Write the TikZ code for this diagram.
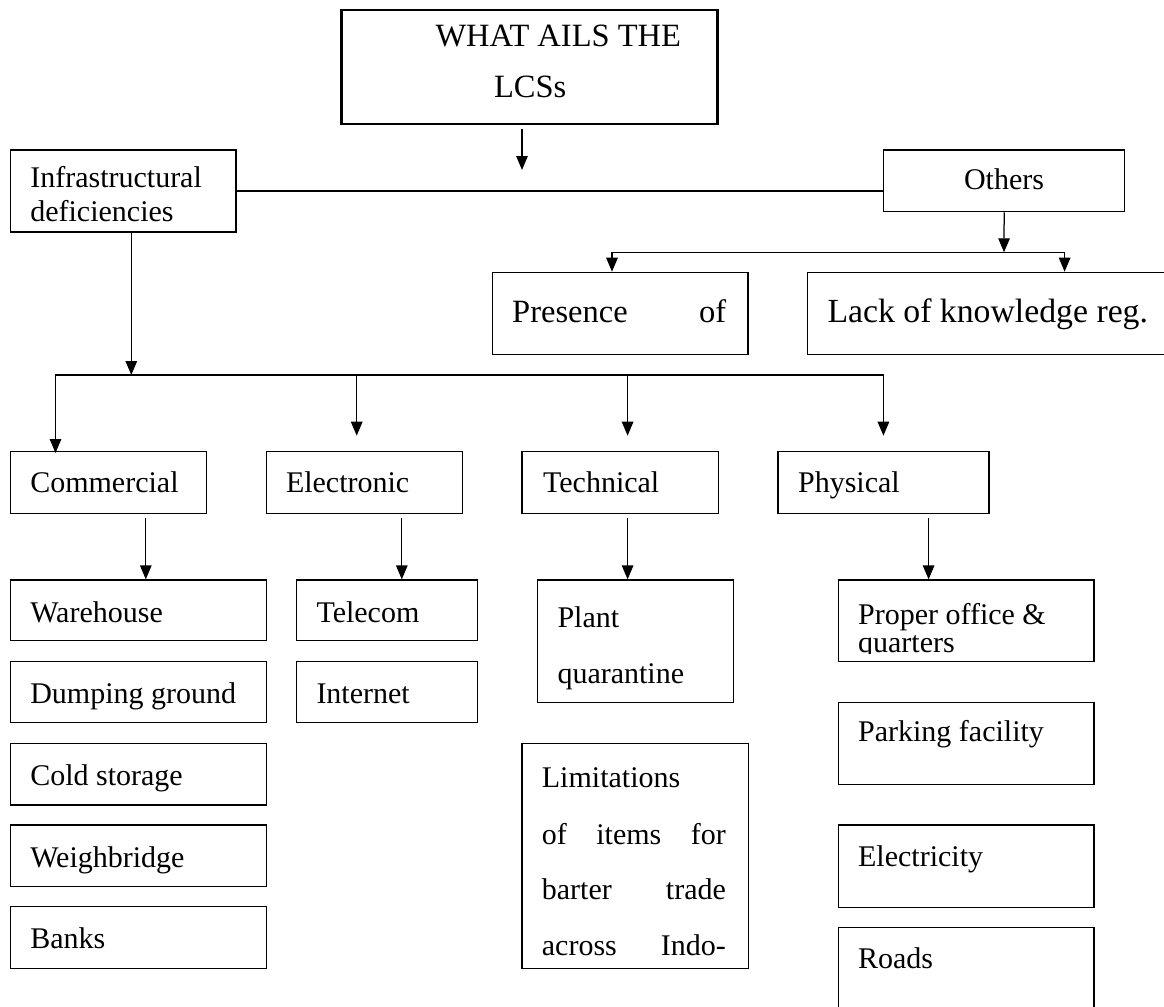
\documentclass[tikz,border=0pt]{standalone}
\usepackage{fontspec}
\setmainfont{Liberation Serif}
\usetikzlibrary{arrows.meta,fit}
\tikzset{
  box/.style={draw, line width=0.5pt, inner sep=0pt},
  titlebox/.style={draw, line width=1pt, inner sep=0pt},
  txt/.style={anchor=base west, inner sep=0pt, font=\fontsize{12}{14}\selectfont},
  ttl/.style={anchor=base west, inner sep=0pt, font=\fontsize{13}{15}\selectfont},
  arr/.style={-{Triangle[width=4.6pt,length=5.6pt]}, line width=0.5pt},
  ln/.style={line width=0.5pt}
}

\begin{document}
\begin{tikzpicture}[x=0.4pt, y=-0.4pt]
\useasboundingbox (0,0) rectangle (1164,1006);

% top
\node[titlebox, fit={(341.7,10) (717.7,124)}] (title) {};
\node[ttl] (titleA) at (435,47) {WHAT AILS THE};
\node[ttl] (titleB) at (493.6,98) {LCSs};
\coordinate (tStart) at (522,129);
\coordinate (tEnd) at (522,170);
\draw[arr] (tStart) -- (tEnd);

\node[box, fit={(10.3,150) (236.1,232)}] (infra) {};
\node[txt] (infraA) at (29.8,187) {Infrastructural};
\node[txt] (infraB) at (29.8,221.7) {deficiencies};

\node[box, fit={(883.6,150) (1124.7,211.7)}] (others) {};
\node[txt, anchor=base] (othersT) at (1004,189) {Others};
\draw[ln] (infra.east) -- (infra.east -| others.west);

% others branch
\node[box, fit={(492.3,272.7) (748,354.3)}] (pres) {};
\node[txt, font=\fontsize{13}{15}\selectfont] (presT) at (511.7,322) {\hbox to 85.6pt{Presence\hfill of}};
\node[box, fit={(807.7,272.7) (1190,354.3)}] (lack) {};
\node[txt, font=\fontsize{13.5}{16}\selectfont] (lackT) at (827,322) {Lack of knowledge reg.};

\coordinate (oSplit) at (1004,252.3);
\coordinate (presTip) at (612,271.7);
\coordinate (lackTip) at (1064.6,271.7);
\draw[arr] (others.south) -- (oSplit);
\draw[arr] (oSplit) -| (presTip);
\draw[arr] (oSplit) -| (lackTip);

% infrastructural branch
\coordinate (iSplit) at (131.3,375);
\coordinate (comTip) at (55.5,453);
\coordinate (eleTip) at (356.7,435.7);
\coordinate (tecTip) at (627.6,435.7);
\coordinate (phyTip) at (883.4,435.7);
\draw[arr] (infra.south -| iSplit) -- (iSplit);
\draw[arr] (iSplit) -| (comTip);
\draw[arr] (iSplit) -| (eleTip);
\draw[arr] (iSplit) -| (tecTip);
\draw[arr] (iSplit) -| (phyTip);

\node[box, fit={(10.3,451.7) (206.7,513.3)}] (com) {};
\node[txt] (comT) at (29.8,492) {Commercial};
\node[box, fit={(266.4,451.7) (462.3,513.3)}] (ele) {};
\node[txt] (eleT) at (285.5,492) {Electronic};
\node[box, fit={(522,451.7) (718.4,513.3)}] (tec) {};
\node[txt] (tecT) at (542.6,492) {Technical};
\node[box, fit={(777.9,451.7) (989,513.3)}] (phy) {};
\node[txt] (phyT) at (797.6,492) {Physical};

% commercial
\node[box, fit={(10.3,580) (266.7,640.7)}] (ware) {};
\node[txt] (wareT) at (29.8,622) {Warehouse};
\node[box, fit={(10.3,661.7) (266.7,722.7)}] (dump) {};
\node[txt] (dumpT) at (29.8,703.5) {Dumping ground};
\node[box, fit={(10.3,743.3) (266.7,805)}] (cold) {};
\node[txt] (coldT) at (29.8,785) {Cold storage};
\node[box, fit={(10.3,825) (266.7,886.7)}] (weigh) {};
\node[txt] (weighT) at (29.8,867) {Weighbridge};
\node[box, fit={(10.3,906.7) (266.7,968.3)}] (bank) {};
\node[txt] (bankT) at (29.8,948.5) {Banks};
\coordinate (comOut) at (145.8,518.3);
\draw[arr] (comOut) -- (comOut |- ware.north);

% electronic
\node[box, fit={(296.6,580) (477.2,640.7)}] (tele) {};
\node[txt] (teleT) at (316,622) {Telecom};
\node[box, fit={(296.6,661.7) (477.2,722.7)}] (inet) {};
\node[txt] (inetT) at (316,703.5) {Internet};
\coordinate (eleOut) at (401.8,518.3);
\draw[arr] (eleOut) -- (eleOut |- tele.north);

% technical
\node[box, fit={(537.2,580) (733.6,702.3)}] (plant) {};
\node[txt] (plantA) at (557,627) {Plant};
\node[txt] (plantB) at (557,683) {quarantine};
\node[box, fit={(522,743.3) (748.3,968.3)}] (limit) {};
\node[txt] (limitA) at (541.4,787.5) {Limitations};
\node[txt] (limitB) at (541.4,844) {\hbox to 73.6pt{of\hfill items\hfill for}};
\node[txt] (limitC) at (541.4,899.5) {\hbox to 73.6pt{barter\hfill trade}};
\node[txt] (limitD) at (541.4,955) {\hbox to 73.6pt{across\hfill Indo-}};
\coordinate (tecOut) at (627.6,518.3);
\draw[arr] (tecOut) -- (tecOut |- plant.north);

% physical
\node[box, fit={(838.3,580) (1094.1,661.7)}] (office) {};
\node[txt] (officeA) at (857.6,624) {Proper office \&};
\begin{scope}
\clip (838.3,600) rectangle (1094.1,653);
\node[txt] (officeB) at (857.6,652) {quarters};
\end{scope}
\node[box, fit={(838.3,702.7) (1094.1,784.3)}] (park) {};
\node[txt] (parkT) at (857.6,741) {Parking facility};
\node[box, fit={(838.3,825) (1094.1,907.3)}] (elec) {};
\node[txt] (elecT) at (857.6,866) {Electricity};
\node[box, fit={(838.3,927.3) (1094.1,1040)}] (road) {};
\node[txt] (roadT) at (857.6,968) {Roads};
\coordinate (phyOut) at (928.6,518.3);
\draw[arr] (phyOut) -- (phyOut |- office.north);
\end{tikzpicture}
\end{document}
